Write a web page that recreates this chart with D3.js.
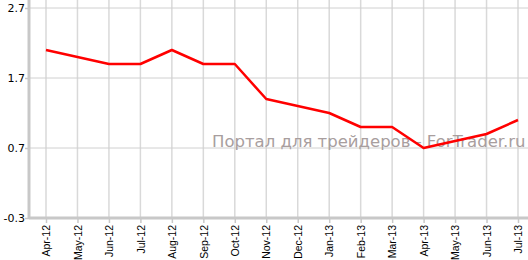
<!DOCTYPE html>
<head>
  <meta charset="utf-8">
  <script src="https://d3js.org/d3.v7.min.js"></script>
  <style>
  body { margin: 0; background: #fff; }
  #chart text { font-family: "DejaVu Sans", Verdana, sans-serif; }
  </style>
</head>
<body>
  <svg id="chart"></svg>
  <script>
    var months = ["Apr-12", "May-12", "Jun-12", "Jul-12", "Aug-12", "Sep-12", "Oct-12", "Nov-12",
                  "Dec-12", "Jan-13", "Feb-13", "Mar-13", "Apr-13", "May-13", "Jun-13", "Jul-13"];
    var values = [2.1, 2.0, 1.9, 1.9, 2.1, 1.9, 1.9, 1.4, 1.3, 1.2, 1.0, 1.0, 0.7, 0.8, 0.9, 1.1];
    var yTicks = [-0.3, 0.7, 1.7, 2.7];

    var width = 528, height = 260;
    var plotLeft = 29, plotTop = 8, plotBottom = 218;

    var svg = d3.select('#chart')
        .attr('width', width)
        .attr('height', height);

    var x = d3.scalePoint()
        .domain(months)
        .range([46, 518]);

    var y = d3.scaleLinear()
        .domain([-0.3, 2.7])
        .range([plotBottom, plotTop]);

    // grid
    svg.append('g').selectAll('line')
        .data(months)
      .enter().append('line')
        .attr('x1', function(d) { return x(d); })
        .attr('x2', function(d) { return x(d); })
        .attr('y1', 0).attr('y2', plotBottom)
        .style('stroke', '#d9d9d9').style('stroke-width', 1.5);

    svg.append('g').selectAll('line')
        .data(yTicks)
      .enter().append('line')
        .attr('x1', plotLeft).attr('x2', width)
        .attr('y1', function(d) { return y(d); })
        .attr('y2', function(d) { return y(d); })
        .style('stroke', '#d0d0d0').style('stroke-width', 1);

    // y axis
    var yAxis = svg.append('g')
        .attr('transform', 'translate(' + plotLeft + ',0)')
        .call(d3.axisLeft(y).tickValues(yTicks).tickSize(4)
          .tickFormat(function(d) { return d.toFixed(1); }));
    yAxis.select('.domain').remove();
    yAxis.selectAll('line').style('stroke', '#c8c8c8').style('stroke-width', 1.5);
    yAxis.selectAll('text').style('font-size', '11px').style('fill', '#000').attr('x', -4);

    // x axis
    var xAxis = svg.append('g')
        .attr('transform', 'translate(0,' + plotBottom + ')')
        .call(d3.axisBottom(x).tickSize(5));
    xAxis.select('.domain').remove();
    xAxis.selectAll('line').style('stroke', '#c8c8c8').style('stroke-width', 1.5);
    xAxis.selectAll('text')
        .style('font-family', '"Liberation Sans", Arial, sans-serif')
        .style('font-size', '10.5px').style('fill', '#000')
        .attr('transform', 'rotate(-90)')
        .attr('x', -7).attr('y', 0).attr('dy', '0.35em')
        .style('text-anchor', 'end');

    svg.append('line')
        .attr('x1', plotLeft).attr('x2', plotLeft).attr('y1', 0).attr('y2', plotBottom + 1)
        .style('stroke', '#c8c8c8').style('stroke-width', 3);
    svg.append('line')
        .attr('x1', plotLeft).attr('x2', width).attr('y1', plotBottom).attr('y2', plotBottom)
        .style('stroke', '#c8c8c8').style('stroke-width', 3);

    // watermark
    svg.append('text')
        .attr('x', 212).attr('y', 147)
        .style('font-family', '"DejaVu Sans", sans-serif')
        .style('font-size', '16.5px')
        .style('fill', '#a89e9e')
        .text('Портал для трейдеров - ForTrader.ru');

    var line = d3.line()
        .x(function(d, i) { return x(months[i]); })
        .y(function(d) { return y(d); });

    svg.append('path')
        .datum(values)
        .attr('d', line)
        .style('fill', 'none')
        .style('stroke', '#ff0000')
        .style('stroke-width', 2.5)
        .style('stroke-linejoin', 'round');
  </script>
</body>
